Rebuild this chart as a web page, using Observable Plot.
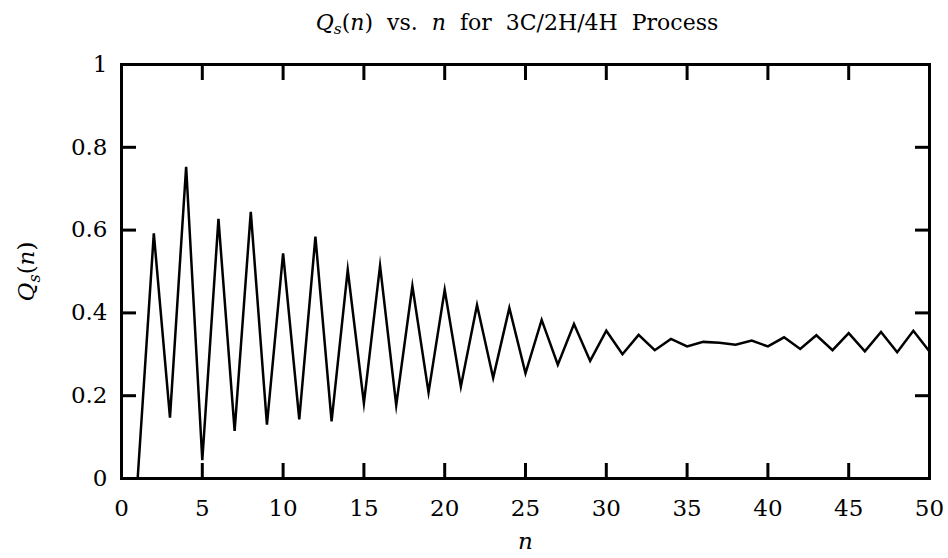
<!DOCTYPE html>
<html>
<head>
<meta charset="utf-8">
<script src="https://cdn.jsdelivr.net/npm/d3@7"></script>
<script src="https://cdn.jsdelivr.net/npm/@observablehq/plot@0.6"></script>
<style>
  html, body { margin: 0; padding: 0; background: #fff; }
  #wrap { width: 948px; height: 558px; position: relative; overflow: hidden; }
  #title { width: 948px; box-sizing: border-box; padding-left: 86px; height: 46px; line-height: 46px;
           text-align: center; font-family: "DejaVu Serif", serif; font-size: 22px; color: #000;
           word-spacing: 7px; }
  #title sub { font-size: 70%; vertical-align: -0.25em; line-height: 0; }
</style>
</head>
<body>
<div id="wrap">
  <div id="title"><i>Q</i><sub><i>s</i></sub>(<i>n</i>) vs. <i>n</i> for 3C/2H/4H Process</div>
  <div id="chart"></div>
</div>
<script>
const n = [1,2,3,4,5,6,7,8,9,10,11,12,13,14,15,16,17,18,19,20,21,22,23,24,25,26,27,28,29,30,31,32,33,34,35,36,37,38,39,40,41,42,43,44,45,46,47,48,49,50];
const qs = [0.000,0.592,0.147,0.753,0.044,0.627,0.115,0.644,0.130,0.544,
            0.143,0.584,0.138,0.504,0.182,0.514,0.177,0.465,0.208,0.456,
            0.222,0.419,0.243,0.412,0.254,0.383,0.275,0.373,0.284,0.357,
            0.300,0.347,0.310,0.337,0.319,0.330,0.328,0.323,0.333,0.319,
            0.341,0.313,0.346,0.310,0.351,0.307,0.354,0.305,0.357,0.307];
const xTicks = [0,5,10,15,20,25,30,35,40,45,50];
const yTicks = [0,0.2,0.4,0.6,0.8,1];
const yTickLabels = ["0","0.2","0.4","0.6","0.8","1"];

const data = n.map((v, i) => ({n: v, q: qs[i]}));

const plot = Plot.plot({
  width: 948,
  height: 512,
  marginLeft: 121,
  marginRight: 19,
  marginTop: 18,
  marginBottom: 80,
  style: {fontFamily: "'DejaVu Serif', serif", fontSize: "23px", color: "#000", background: "#fff"},
  x: {domain: [0, 50]},
  y: {domain: [0, 1]},
  marks: [
    Plot.line(data, {x: "n", y: "q", stroke: "#000", strokeWidth: 2.5, strokeLinejoin: "miter", strokeMiterlimit: 10}),
    Plot.axisX(xTicks, {anchor: "bottom", tickSize: -15, tickPadding: 36, strokeWidth: 3, label: "n", labelAnchor: "center", labelArrow: "none", labelOffset: 70}),
    Plot.axisX(xTicks, {anchor: "top", tickSize: -15, strokeWidth: 3, tickFormat: () => "", label: null}),
    Plot.axisY(yTicks, {anchor: "left", tickSize: -15, tickPadding: 29, strokeWidth: 3, tickFormat: (d, i) => yTickLabels[i], label: "Qs(n)", labelAnchor: "center", labelArrow: "none", labelOffset: 104}),
    Plot.axisY(yTicks, {anchor: "right", tickSize: -15, strokeWidth: 3, tickFormat: () => "", label: null}),
    Plot.frame({stroke: "#000", strokeWidth: 3})
  ]
});
document.getElementById("chart").appendChild(plot);

// Typeset the axis labels (italic math variables, subscript s)
const ylab = plot.querySelector('g[aria-label="y-axis label"] text');
if (ylab) {
  ylab.textContent = "";
  const parts = [["Q", true, 0, null], ["s", true, 6, "16px"], ["(", false, -6, null], ["n", true, 0, null], [")", false, 0, null]];
  for (const [t, it, dy, fs] of parts) {
    const ts = document.createElementNS("http://www.w3.org/2000/svg", "tspan");
    ts.textContent = t;
    if (it) ts.setAttribute("font-style", "italic");
    if (dy) ts.setAttribute("dy", dy);
    if (fs) ts.setAttribute("font-size", fs);
    ylab.appendChild(ts);
  }
}
const xlab = plot.querySelector('g[aria-label="x-axis label"] text');
if (xlab) xlab.setAttribute("font-style", "italic");
</script>
</body>
</html>
